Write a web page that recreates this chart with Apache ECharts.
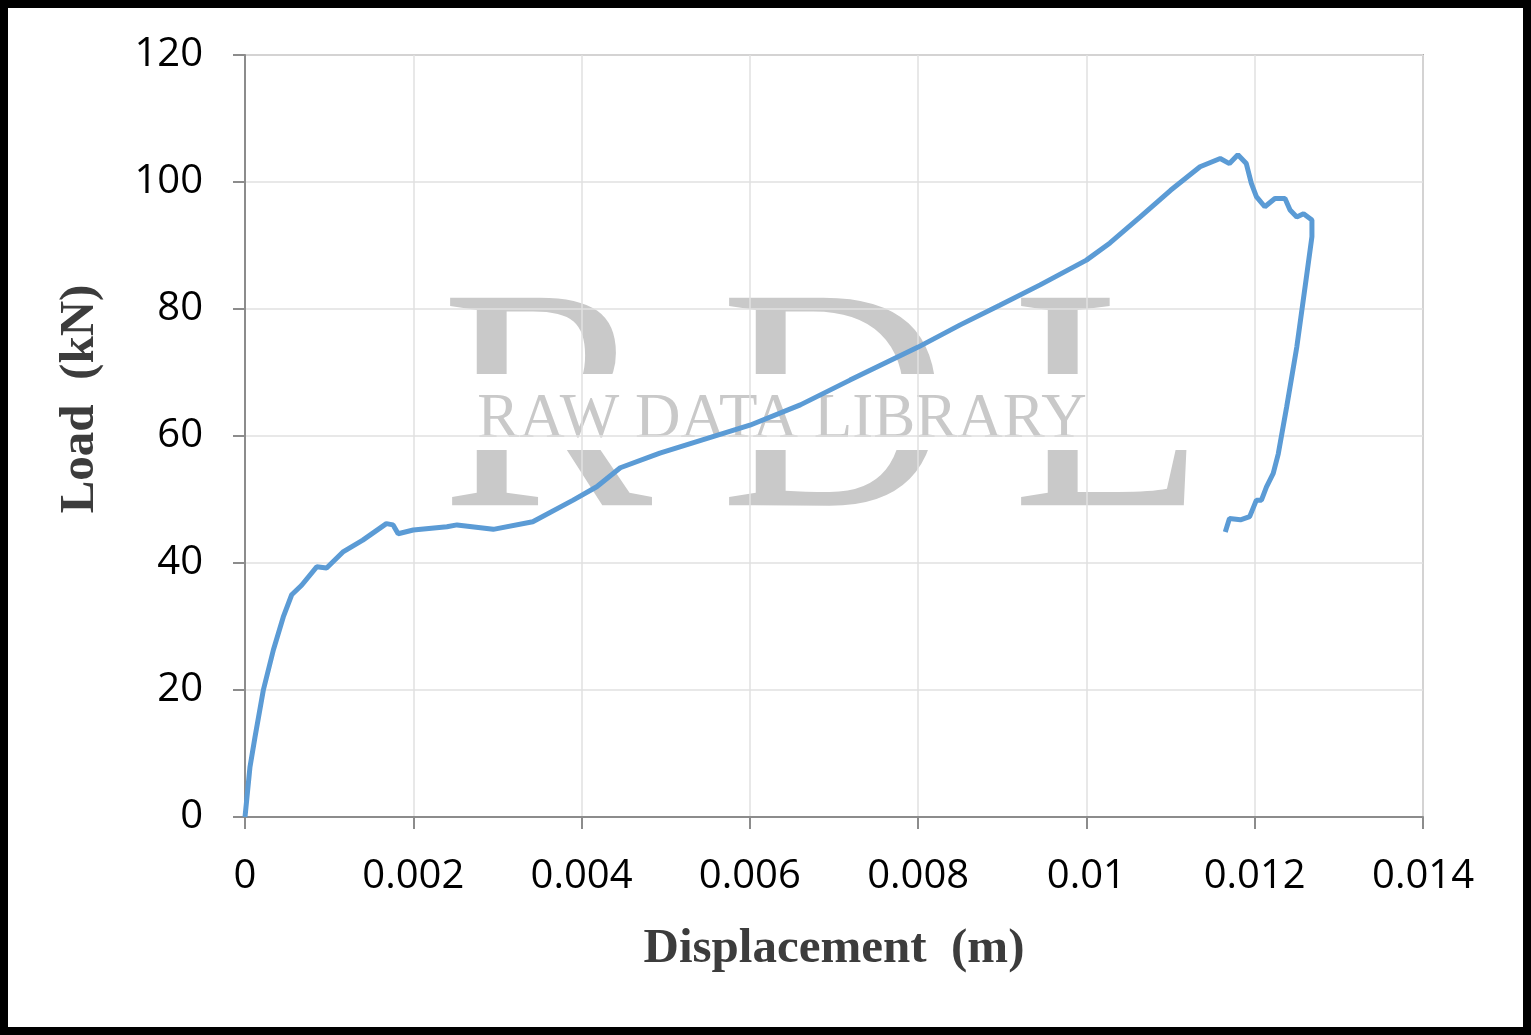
<!DOCTYPE html>
<html>
<head>
<meta charset="utf-8">
<style>
html,body{margin:0;padding:0;background:#fff;}
#chart{width:1531px;height:1035px;}
</style>
<script src="https://cdn.jsdelivr.net/npm/echarts@6/dist/echarts.min.js"></script>
</head>
<body>
<div id="chart"></div>
<script>
// Displacement (m)
const displacement = [
  0, 0.0000594, 0.000119, 0.000218, 0.000337, 0.000455, 0.000555, 0.000673, 0.000852, 0.00097,
  0.00117, 0.0014, 0.00168, 0.00176, 0.00182, 0.002, 0.0024, 0.00252, 0.00295, 0.00342,
  0.0039, 0.00418, 0.00446, 0.00493, 0.006, 0.0066, 0.00719, 0.008, 0.0085, 0.00897,
  0.00945, 0.01, 0.01028, 0.01064, 0.011, 0.01135, 0.01159, 0.0117, 0.0118, 0.0119,
  0.01196, 0.01202, 0.01212, 0.01224, 0.01236, 0.01242, 0.0125, 0.01258, 0.01268, 0.01268,
  0.01261, 0.0125, 0.01238, 0.01228, 0.01222, 0.01214, 0.01208, 0.01202, 0.01194, 0.01183,
  0.0117, 0.01168, 0.01165
];
// Load (kN)
const load = [
  0, 7.9, 12.6, 20, 26.3, 31.5, 35, 36.5, 39.4, 39.2,
  41.8, 43.6, 46.2, 46, 44.6, 45.2, 45.7, 46.0, 45.3, 46.5,
  49.9, 52, 55, 57.3, 61.7, 64.9, 68.8, 74, 77.5, 80.6,
  83.8, 87.7, 90.4, 94.5, 98.7, 102.4, 103.7, 102.9, 104.3, 102.9,
  99.8, 97.7, 96.1, 97.4, 97.4, 95.6, 94.5, 95, 94, 91.4,
  84.6, 74, 64.6, 57.2, 54.1, 52, 49.9, 49.9, 47.3, 46.8,
  47, 47.3, 44.9
];
const xTicks = ['0', '0.002', '0.004', '0.006', '0.008', '0.01', '0.012', '0.014'];
const yTicks = ['0', '20', '40', '60', '80', '100', '120'];
const xTitle = 'Displacement  (m)';
const yTitle = 'Load  (kN)';
const watermarkLetters = ['R', 'D', 'L'];
const watermarkText = 'RAW DATA LIBRARY';

const seriesData = displacement.map((d, i) => [d, load[i]]);

const chart = echarts.init(document.getElementById('chart'), null, {renderer: 'canvas'});
const labelFont = {fontFamily: '"Open Sans"', fontSize: 40, color: '#000'};
const titleFont = {fontFamily: '"Liberation Serif"', fontWeight: 'bold', fontSize: 49, color: '#3c3c3c'};

chart.setOption({
  animation: false,
  backgroundColor: '#fff',
  grid: {left: 245, right: 108, top: 55, bottom: 218, show: true, borderColor: '#b0adad', borderWidth: 2, backgroundColor: 'transparent'},
  xAxis: {
    type: 'value', min: 0, max: 0.014, interval: 0.002,
    name: xTitle, nameLocation: 'middle', nameGap: 108, nameTextStyle: titleFont,
    axisLine: {show: true, onZero: false, lineStyle: {color: '#8c8c8c', width: 2}},
    axisTick: {show: true, length: 12, lineStyle: {color: '#8c8c8c', width: 2}},
    axisLabel: Object.assign({margin: 40, formatter: (v) => xTicks[Math.round(v / 0.002)]}, labelFont),
    splitLine: {show: true, lineStyle: {color: '#e0e0e0', width: 1.5}}
  },
  yAxis: {
    type: 'value', min: 0, max: 120, interval: 20,
    axisLine: {show: true, onZero: false, lineStyle: {color: '#8c8c8c', width: 2}},
    axisTick: {show: true, length: 12, lineStyle: {color: '#8c8c8c', width: 2}},
    axisLabel: Object.assign({margin: 42, formatter: (v) => yTicks[Math.round(v / 20)]}, labelFont),
    splitLine: {show: true, lineStyle: {color: '#e0e0e0', width: 1.5}}
  },
  graphic: [
    {
      type: 'group', z: -10, silent: true,
      children: [
        {type: 'text', z: -10, x: 441, y: 422, style: {text: watermarkLetters[0], font: 'normal 317px "Liberation Serif"', fill: '#c9c9c9', verticalAlign: 'middle', align: 'left'}},
        {type: 'text', z: -10, x: 720, y: 422, style: {text: watermarkLetters[1], font: 'normal 317px "Liberation Serif"', fill: '#c9c9c9', verticalAlign: 'middle', align: 'left'}},
        {type: 'text', z: -10, x: 1012, y: 422, style: {text: watermarkLetters[2], font: 'normal 317px "Liberation Serif"', fill: '#c9c9c9', verticalAlign: 'middle', align: 'left'}},
        {type: 'rect', z: -9, shape: {x: 436, y: 374, width: 770, height: 76}, style: {fill: '#fff'}},
        {type: 'text', z: -8, x: 782, y: 420, style: {text: watermarkText, font: 'normal 63px "Liberation Serif"', fill: '#c9c9c9', verticalAlign: 'middle', align: 'center'}}
      ]
    },
    {type: 'text', z: 10, silent: true, x: 80, y: 399, rotation: Math.PI / 2,
      style: {text: yTitle, font: 'bold 49px "Liberation Serif"', fill: '#3c3c3c', align: 'center', verticalAlign: 'middle'}},
    {type: 'rect', z: 100, silent: true, shape: {x: 4, y: 4, width: 1523, height: 1027}, style: {fill: 'none', stroke: '#000', lineWidth: 8}}
  ],
  series: [{
    type: 'line', data: seriesData, showSymbol: false, smooth: false,
    lineStyle: {color: '#5b9bd5', width: 5}, itemStyle: {color: '#5b9bd5'}, z: 5
  }]
});
</script>
</body>
</html>
